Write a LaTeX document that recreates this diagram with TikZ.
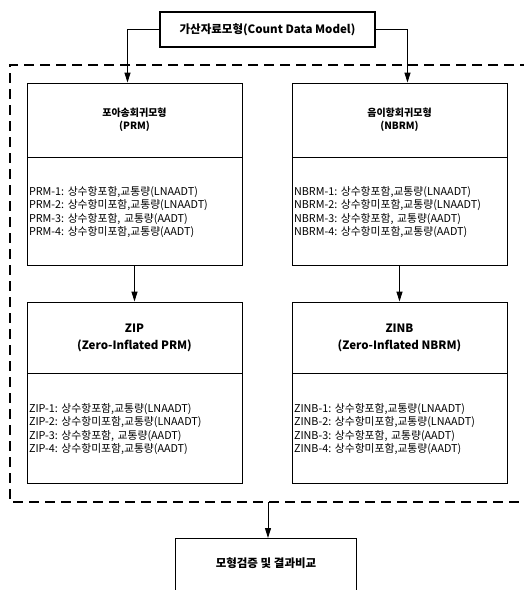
\documentclass[tikz,border=0pt]{standalone}
\usepackage{fontspec}
\setmainfont{Noto Sans CJK KR}
\usetikzlibrary{positioning, arrows.meta}

\begin{document}
\begin{tikzpicture}[
    x=1pt, y=-1pt,
    % Estilos de cajas y flechas
    cabeza/.style={draw, line width=0.9pt, minimum width=215pt, inner sep=0pt, align=center, font=\bfseries\fontsize{10}{13}\selectfont},
    cuerpo/.style={draw, line width=0.9pt, minimum width=215pt, text width=211pt, inner sep=2pt, align=left, font=\fontsize{10.8}{13.3}\selectfont},
    flecha/.style={line width=1pt, -{Triangle[length=10pt, width=6pt]}},
    ]
    \useasboundingbox (0,0) rectangle (523,590);

    % Caja superior
    \node[draw, line width=1.6pt, minimum width=215pt, minimum height=35pt, font=\bfseries\fontsize{11.5}{12}\selectfont] (conteo) at (267.5,29.5) {가산자료모형(Count Data Model)};

    % Marco discontinuo
    \draw[line width=1.4pt, dash pattern=on 10pt off 6pt] (530,65) -- (10,65) -- (10,502) -- (530,502);
    \coordinate (marco) at (268,502);

    % Columna PRM
    \node[cabeza, minimum height=74pt] (prm) at (134.5,120) {\fontsize{10}{14}\selectfont 포아송회귀모형\\(PRM)};
    \node[cuerpo, minimum height=108pt, below=0pt of prm] (prmlista) {PRM-1:\ 상수항포함,교통량(LNAADT)\\PRM-2:\ 상수항미포함,교통량(LNAADT)\\PRM-3:\ 상수항포함,\ 교통량(AADT)\\PRM-4:\ 상수항미포함,교통량(AADT)};

    \node[cabeza, minimum height=71pt, font=\bfseries\fontsize{11.5}{17}\selectfont] (zip) at (134.5,337.5) {ZIP\\(Zero-Inflated PRM)};
    \node[cuerpo, minimum height=110pt, below=0pt of zip] (ziplista) {ZIP-1:\ 상수항포함,교통량(LNAADT)\\ZIP-2:\ 상수항미포함,교통량(LNAADT)\\ZIP-3:\ 상수항포함,\ 교통량(AADT)\\ZIP-4:\ 상수항미포함,교통량(AADT)};

    % Columna NBRM
    \node[cabeza, minimum height=74pt] (nbrm) at (399.5,120) {\fontsize{10}{14}\selectfont 음이항회귀모형\\(NBRM)};
    \node[cuerpo, minimum height=108pt, below=0pt of nbrm] (nbrmlista) {NBRM-1:\ 상수항포함,교통량(LNAADT)\\NBRM-2:\ 상수항미포함,교통량(LNAADT)\\NBRM-3:\ 상수항포함,\ 교통량(AADT)\\NBRM-4:\ 상수항미포함,교통량(AADT)};

    \node[cabeza, minimum height=71pt, font=\bfseries\fontsize{11.5}{17}\selectfont] (zinb) at (399.5,337.5) {ZINB\\(Zero-Inflated NBRM)};
    \node[cuerpo, minimum height=110pt, below=0pt of zinb] (zinblista) {ZINB-1:\ 상수항포함,교통량(LNAADT)\\ZINB-2:\ 상수항미포함,교통량(LNAADT)\\ZINB-3:\ 상수항포함,\ 교통량(AADT)\\ZINB-4:\ 상수항미포함,교통량(AADT)};

    % Caja inferior (cortada por el borde)
    \node[draw, line width=0.9pt, anchor=north, minimum width=181pt, inner ysep=0pt, text height=29pt, text depth=50pt, font=\bfseries\fontsize{11.5}{12}\selectfont] (resultado) at (266,538) {모형검증 및 결과비교};

    % Flechas
    \draw[flecha] (conteo.west) -| ([xshift=-7pt]prm.north);
    \draw[flecha] (conteo.east) -| ([xshift=8pt]nbrm.north);
    \draw[flecha] (prmlista) -- (zip);
    \draw[flecha] (nbrmlista) -- (zinb);
    \draw[flecha] (marco) -- (resultado.north -| marco);
\end{tikzpicture}
\end{document}
